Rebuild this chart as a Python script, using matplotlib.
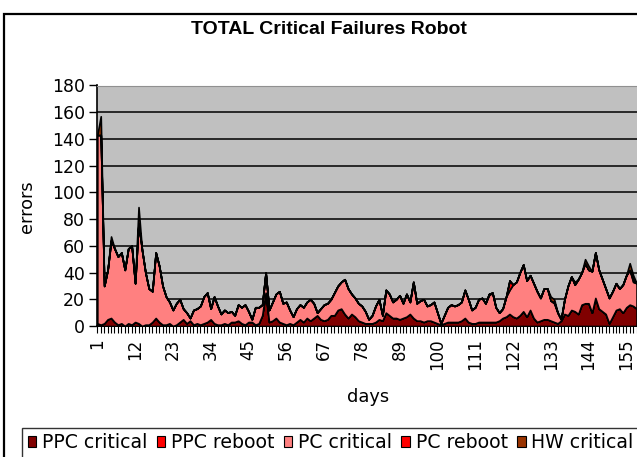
import numpy as np
import matplotlib
matplotlib.use("Agg")
import matplotlib.pyplot as plt
from matplotlib.patches import Patch, Rectangle

plt.rcParams['font.family'] = ['DejaVu Sans']

# values, one per day (day 1 .. 158)
ppc_critical = [
    2, 1, 2, 5, 6, 3, 1, 2, 0, 2, 1, 3, 2, 0, 1, 1, 3, 6, 3, 1,
    1, 2, 0, 1, 3, 5, 2, 4, 1, 2, 1, 2, 3, 5, 2, 1, 1, 2, 1, 3,
    3, 4, 2, 1, 3, 3, 1, 2, 8, 25, 3, 4, 6, 3, 2, 1, 2, 1, 3, 5,
    3, 6, 4, 6, 8, 5, 4, 5, 8, 8, 12, 13, 9, 6, 9, 7, 4, 3, 2, 2,
    2, 3, 5, 4, 10, 8, 6, 6, 5, 6, 7, 9, 6, 4, 4, 3, 4, 4, 3, 2,
    1, 2, 3, 3, 3, 3, 4, 6, 3, 2, 2, 3, 3, 3, 3, 3, 3, 4, 6, 7,
    9, 7, 6, 8, 11, 7, 12, 6, 3, 4, 5, 5, 4, 3, 2, 4, 9, 8, 12, 11,
    9, 16, 17, 17, 10, 21, 13, 11, 9, 2, 7, 12, 13, 10, 14, 16, 15, 13]

ppc_reboot = [0] * 158

pc_critical = [
    141, 142, 28, 37, 58, 55, 51, 53, 42, 56, 59, 29, 75, 57, 39, 27, 23, 49, 42, 29,
    21, 16, 12, 16, 17, 8, 8, 2, 11, 11, 14, 20, 22, 8, 20, 14, 8, 10, 9, 8,
    5, 12, 12, 15, 8, 2, 13, 12, 8, 15, 9, 14, 18, 23, 15, 17, 10, 6, 10, 11,
    11, 12, 16, 11, 2, 8, 12, 12, 12, 17, 18, 20, 26, 22, 15, 14, 13, 12, 9, 3,
    6, 12, 15, 4, 17, 16, 12, 14, 18, 11, 17, 9, 27, 13, 15, 17, 11, 12, 15, 8,
    1, 6, 11, 13, 12, 13, 14, 21, 17, 10, 12, 17, 18, 14, 20, 22, 11, 6, 7, 15,
    18, 24, 27, 32, 35, 27, 26, 26, 23, 17, 23, 23, 15, 14, 8, 1, 11, 22, 25, 20,
    26, 24, 30, 25, 31, 34, 29, 24, 19, 19, 19, 20, 15, 21, 24, 26, 18, 19]

pc_reboot = [0] * 158
hw_critical = [0] * 158
# the few days where the thin top layers show up
pc_reboot_days = {115: 1, 121: 7, 134: 1, 157: 2}
hw_critical_days = {2: 14, 5: 3, 13: 12, 133: 3, 134: 2, 140: 2, 143: 3, 144: 3, 156: 5, 157: 3}
for d, v in pc_reboot_days.items():
    pc_reboot[d - 1] = v
for d, v in hw_critical_days.items():
    hw_critical[d - 1] = v

days = np.arange(1, len(pc_critical) + 1)
labels = ["PPC critical", "PPC reboot", "PC critical", "PC reboot", "HW critical"]
colors = ["#800000", "#FF0000", "#FF8080", "#FF0000", "#993300"]

W, H = 637, 457
fig = plt.figure(figsize=(W / 100, H / 100), dpi=100)

# outer chart frame (cropped on the right and bottom)
fig.add_artist(Rectangle((4 / W, -0.05), 1.1, 1 - 14 / H + 0.05, transform=fig.transFigure,
                         fill=False, edgecolor="black", linewidth=1.6, clip_on=False))

x0, x1 = 97.3, 640.0
y_top, y_bot = 85.5, 326.0
ax = fig.add_axes([x0 / W, (H - y_bot) / H, (x1 - x0) / W, (y_bot - y_top) / H])
ax.set_facecolor("#C0C0C0")

ax.stackplot(days, ppc_critical, ppc_reboot, pc_critical, pc_reboot, hw_critical,
             colors=colors, edgecolor="black", linewidth=1.2, zorder=3)

ax.set_xlim(1, 159)
ax.set_ylim(0, 180)
ax.set_yticks(np.arange(0, 181, 20))
ax.yaxis.grid(True, color="black", linewidth=1.1, zorder=1)
ax.set_axisbelow(True)

ax.set_xticks(np.arange(1, 159, 11))
ax.set_xticks(days, minor=True)
ax.tick_params(axis="x", which="both", length=5, width=0.8, direction="out")
ax.tick_params(axis="x", which="major", labelrotation=90, labelsize=12, pad=4)
ax.tick_params(axis="y", length=6, width=1.0, labelsize=12.5, pad=3)

ax.spines["top"].set_color("#909090")
ax.spines["right"].set_visible(False)
ax.spines["left"].set_linewidth(1.2)
ax.spines["bottom"].set_linewidth(1.2)

fig.text(329 / W, 1 - 29 / H, "TOTAL Critical Failures Robot", ha="center", va="center",
         fontsize=14, fontweight="bold", family="Liberation Sans")
fig.text(27 / W, 1 - 207 / H, "errors", rotation=90, ha="center", va="center", fontsize=12.8)
fig.text(368 / W, 1 - 397 / H, "days", ha="center", va="center", fontsize=12.8)

handles = [Patch(facecolor=c, edgecolor="black", linewidth=0.8) for c in colors]
leg = fig.legend(handles, labels, loc="upper left", bbox_to_anchor=(22 / W, 1 - 427.5 / H),
                 ncol=5, fontsize=13.6, frameon=True, fancybox=False, borderpad=0.3,
                 handlelength=0.45, handleheight=0.45, handletextpad=0.3, columnspacing=0.5,
                 borderaxespad=0)
leg.get_frame().set_edgecolor("black")
leg.get_frame().set_linewidth(1.0)

fig.savefig("out.png", dpi=100)
